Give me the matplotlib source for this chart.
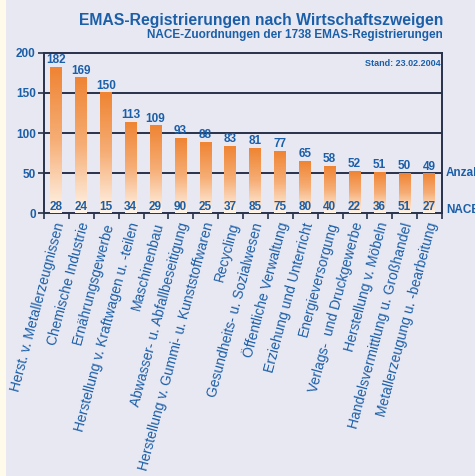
import matplotlib
matplotlib.use("Agg")
import matplotlib.pyplot as plt
import numpy as np
from matplotlib.colors import LinearSegmentedColormap
from matplotlib.patches import Rectangle

categories = [
    "Herst. v. Metallerzeugnissen",
    "Chemische Industrie",
    "Ernährungsgewerbe",
    "Herstellung v. Kraftwagen u. -teilen",
    "Maschinenbau",
    "Abwasser- u. Abfallbeseitigung",
    "Herstellung v. Gummi- u. Kunststoffwaren",
    "Recycling",
    "Gesundheits- u. Sozialwesen",
    "Öffentliche Verwaltung",
    "Erziehung und Unterricht",
    "Energieversorgung",
    "Verlags-  und Druckgewerbe",
    "Herstellung v. Möbeln",
    "Handelsvermittlung u. Großhandel",
    "Metallerzeugung u. -bearbeitung",
]
anzahl = [182, 169, 150, 113, 109, 93, 88, 83, 81, 77, 65, 58, 52, 51, 50, 49]
nace = [28, 24, 15, 34, 29, 90, 25, 37, 85, 75, 80, 40, 22, 36, 51, 27]
yticks = [0, 50, 100, 150, 200]

BLUE = "#1b5fa8"
DARK = "#28324a"
BG = "#e8e8f2"

plt.rcParams["font.family"] = ["Liberation Sans", "DejaVu Sans"]

fig = plt.figure(figsize=(4.75, 4.76), dpi=100)
fig.patch.set_facecolor(BG)
fig.patches.append(Rectangle((0, 0), 6 / 475, 1, transform=fig.transFigure,
                             facecolor="#fffbea", edgecolor="none", zorder=0))

ax = fig.add_axes([44 / 475, 1 - 213 / 476, (442 - 44) / 475, (213 - 53) / 476])
ax.set_facecolor(BG)
n = len(anzahl)

cmap = LinearSegmentedColormap.from_list("g", ["#fff5ea", "#f6ae76", "#ef8433"])
grad = np.linspace(0, 1, 256).reshape(-1, 1)
w = 0.45
for i, v in enumerate(anzahl):
    ax.imshow(grad, extent=[i - w / 2 - 0.02, i + w / 2 - 0.02, 0, v], origin="lower",
              cmap=cmap, aspect="auto", zorder=3, interpolation="bilinear")
    ax.text(i - 0.02, v + 1.5, str(v), ha="center", va="bottom", color=BLUE,
            fontsize=8.5, fontweight="bold", zorder=5)
    ax.text(i - 0.02, 0.5, str(nace[i]), ha="center", va="bottom", color=BLUE,
            fontsize=8.5, fontweight="bold", zorder=5)
ax.set_xlim(-0.5, n - 0.5)
ax.set_ylim(0, 200)

for y in [50, 100, 150]:
    ax.axhline(y, color=DARK, lw=1.4, zorder=2)

for s in ax.spines.values():
    s.set_color(DARK)
    s.set_linewidth(1.4)

ax.set_yticks(yticks)
ax.set_yticklabels([str(t) for t in yticks], color=BLUE, fontsize=8.5, fontweight="bold")
ax.tick_params(axis="y", direction="out", length=4, width=1.2, color=DARK, pad=2)
ax.set_xticks(np.arange(-0.5, n, 1.0))
ax.set_xticklabels([])
ax.tick_params(axis="x", direction="out", length=4, width=1.2, color=DARK)

for i, c in enumerate(categories):
    ax.text(i + 0.15, -12, c, rotation=75, ha="right", va="center",
            rotation_mode="anchor", color=BLUE, fontsize=10, zorder=5)

ax.text(1.01, 50 / 200, "Anzahl", transform=ax.transAxes, ha="left", va="center",
        color=BLUE, fontsize=8.5, fontweight="bold", clip_on=False)
ax.text(1.01, 4 / 200, "NACE", transform=ax.transAxes, ha="left", va="center",
        color=BLUE, fontsize=8.5, fontweight="bold", clip_on=False)
ax.text(0.997, 0.965, "Stand: 23.02.2004", transform=ax.transAxes, ha="right", va="top",
        color=BLUE, fontsize=6.5, fontweight="bold")

fig.text(443 / 475, 1 - 20 / 476, "EMAS-Registrierungen nach Wirtschaftszweigen",
         ha="right", va="center", color=BLUE, fontsize=11.3, fontweight="bold")
fig.text(443 / 475, 1 - 35 / 476, "NACE-Zuordnungen der 1738 EMAS-Registrierungen",
         ha="right", va="center", color=BLUE, fontsize=8.5, fontweight="bold")

fig.savefig("out.png", dpi=100, facecolor=BG)
